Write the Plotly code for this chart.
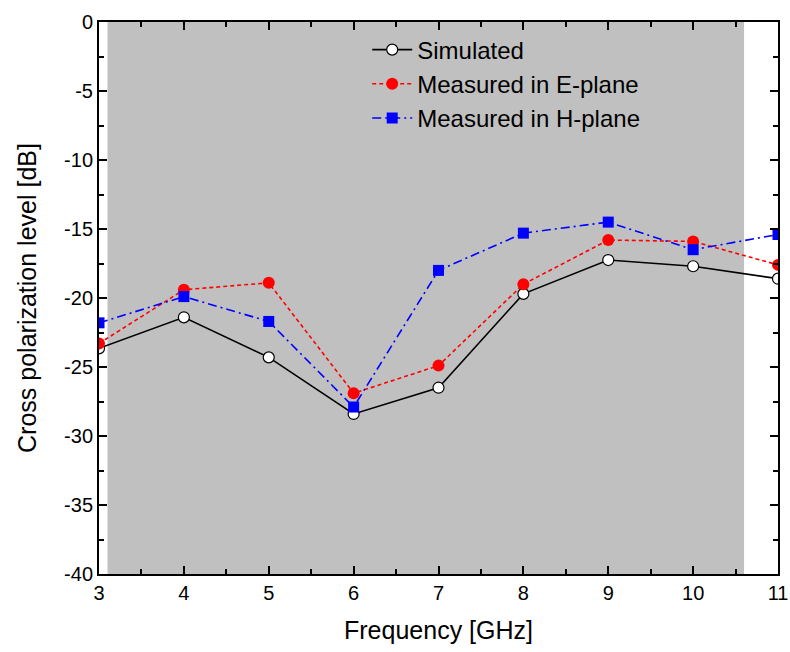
import plotly.graph_objects as go

freq = [3, 4, 5, 6, 7, 8, 9, 10, 11]
simulated = [-23.65, -21.4, -24.3, -28.4, -26.5, -19.7, -17.25, -17.7, -18.6]
e_plane = [-23.3, -19.4, -18.9, -26.9, -24.9, -19.0, -15.8, -15.9, -17.6]
h_plane = [-21.8, -19.9, -21.7, -27.9, -18.0, -15.3, -14.5, -16.5, -15.4]
band = [3.1, 10.6]
y_tickvals = [0, -5, -10, -15, -20, -25, -30, -35, -40]
y_ticktext = ["0", "-5", "-10", "-15", "-20", "-25", "-30", "-35", "-40"]
x_tickvals = [3, 4, 5, 6, 7, 8, 9, 10, 11]
x_ticktext = ["3", "4", "5", "6", "7", "8", "9", "10", "11"]

FONT = "Arial, Liberation Sans, sans-serif"

fig = go.Figure()
fig.add_trace(go.Scatter(
    x=freq, y=simulated, name="Simulated", mode="lines+markers",
    line=dict(color="black", width=1.6),
    marker=dict(symbol="circle", size=11, color="white", line=dict(color="black", width=1.2))))
fig.add_trace(go.Scatter(
    x=freq, y=e_plane, name="Measured in E-plane", mode="lines+markers",
    line=dict(color="#ff0000", width=1.6, dash="4px,3px"),
    marker=dict(symbol="circle", size=12, color="#ff0000")))
fig.add_trace(go.Scatter(
    x=freq, y=h_plane, name="Measured in H-plane", mode="lines+markers",
    line=dict(color="#0000ff", width=1.6, dash="9px,4px,2px,4px"),
    marker=dict(symbol="square", size=11, color="#0000ff")))

fig.add_shape(type="rect", xref="x", yref="paper", x0=band[0], x1=band[1], y0=0, y1=1,
              fillcolor="#c0c0c0", line=dict(width=0), layer="below")

axis_common = dict(
    showline=True, linecolor="black", linewidth=2, mirror="ticks",
    ticks="inside", ticklen=8, tickwidth=2, tickcolor="black",
    showgrid=False, zeroline=False, automargin=False, ticklabeloverflow="allow",
    tickfont=dict(family=FONT, size=20, color="black"),
)

fig.update_xaxes(
    range=[3, 11], tickvals=x_tickvals, ticktext=x_ticktext,
    minor=dict(ticks="inside", ticklen=5, tickwidth=2, dtick=0.5, tick0=3, tickcolor="black", showgrid=False),
    title=dict(text="Frequency [GHz]", font=dict(family=FONT, size=25, color="black"), standoff=18),
    **axis_common)
fig.update_yaxes(
    range=[-40, 0], tickvals=y_tickvals, ticktext=y_ticktext,
    minor=dict(ticks="inside", ticklen=5, tickwidth=2, dtick=2.5, tick0=0, tickcolor="black", showgrid=False),
    title=dict(text="Cross polarization level [dB]", font=dict(family=FONT, size=25, color="black"), standoff=20),
    **axis_common)

fig.update_layout(
    width=790, height=652,
    margin=dict(l=99, r=12, t=22, b=78),
    plot_bgcolor="white", paper_bgcolor="white",
    font=dict(family=FONT, color="black"),
    legend=dict(x=0.395, y=0.99, xanchor="left", yanchor="top",
                bgcolor="rgba(0,0,0,0)", font=dict(family=FONT, size=24, color="black"),
                tracegroupgap=0, itemwidth=40),
)

fig.write_html("out.html", config={"displayModeBar": False},
               post_script="document.body.style.margin='0';document.body.style.overflow='hidden';")
